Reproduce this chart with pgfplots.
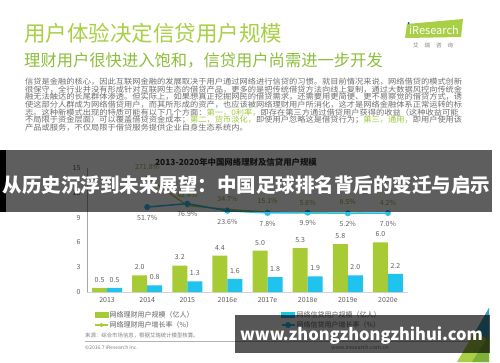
\documentclass[border=0pt]{standalone}
\usepackage{pgfplots}
\pgfplotsset{compat=1.18}
\usepackage{fontspec}
\setmainfont{Noto Sans CJK SC}
\definecolor{gbar}{HTML}{A6CB34}
\definecolor{bbar}{HTML}{1FC3EE}
\definecolor{tgreen}{HTML}{A8CF45}
\definecolor{sgreen}{HTML}{8DBE3C}
\definecolor{pgreen}{HTML}{9CC63A}
\definecolor{txt}{HTML}{606060}
\definecolor{ptxt}{HTML}{6E6E6E}
\definecolor{glabel}{HTML}{8FB03A}
\definecolor{bline}{HTML}{2BC0EA}
\definecolor{tri1}{HTML}{3C9CC8}
\definecolor{tri2}{HTML}{7FB13A}
\definecolor{pgnum}{HTML}{9BBB59}
\definecolor{idot}{HTML}{1F4E9A}
\pgfplotsset{mylineleg/.style={legend image code/.code={\draw[mark repeat=2,mark phase=2,##1] plot coordinates {(0pt,0pt)(6.5pt,0pt)(13pt,0pt)};}}}
\newcommand\fs[1]{\fontsize{#1}{#1}\selectfont}
\newcommand\pl[1]{\scalebox{1.085}[1]{\fs{7.6}#1}}
\begin{document}
\begin{tikzpicture}
\begin{scope}[x=1pt,y=-1pt]
\fill[white] (0,0) rectangle (500,362);
% titles
\node[anchor=west,text=tgreen,inner sep=0] at (24,33) {\fs{21.5}用户体验决定信贷用户规模};
\node[anchor=west,text=sgreen,inner sep=0] at (24,60) {\fs{16.3}理财用户很快进入饱和，信贷用户尚需进一步开发};
% logo
\fill[tgreen] (407,24) -- (463,19) -- (461,37) -- (405,38) -- cycle;
\node[text=white,inner sep=0] at (434,30) {\fs{11}iResearch};
\fill[idot] (408.6,23.2) circle (1.1);
\node[text=gray,inner sep=0] at (433,45) {\fs{5.5}艾\hspace{6pt}瑞\hspace{6pt}咨\hspace{6pt}询};
% paragraph
\begin{scope}[every node/.style={anchor=west,inner sep=0,text=ptxt}]
\node at (25,81.7) {\pl{信贷是金融的核心，因此互联网金融的发展取决于用户通过网络进行信贷的习惯。就目前情况来说，网络借贷的模式创新}};
\node at (25,89.3) {\pl{很保守，全行业并没有形成针对互联网生态的借贷产品，更多的是把传统借贷方法向线上复制，通过大数据风控向传统金}};
\node at (25,97.0) {\pl{融无法触达的长尾群体渗透。但实际上，如果想真正挖掘网民的借贷需求，还需要用更简便、更不易察觉的借贷方式，诱}};
\node at (25,104.6) {\pl{使这部分人群成为网络借贷用户，而其所形成的资产，也应该被网络理财用户所消化，这才是网络金融体系正常运转的标}};
\node at (25,112.3) {\pl{志。这种新模式出现的特质可能有以下几个方面：{\color{pgreen}第一，0利率，}即存在第三方通过借贷用户获得的收益（这种收益可能}};
\node at (25,119.9) {\pl{不局限于资金层面）可以覆盖借贷资金成本；{\color{pgreen}第二，货币淡化，}即使用户忽略这是借贷行为；{\color{pgreen}第三，通用，}即用户使用该}};
\node at (25,127.5) {\pl{产品或服务，不仅局限于借贷服务提供企业自身生态系统内。}};
\end{scope}
% chart title
\node[inner sep=0,text=black!80] at (236,162) {\fs{8.4}\bfseries 2013-2020年中国网络理财及信贷用户规模};
\end{scope}
% bars
\begin{axis}[at={(87pt,-292pt)}, anchor=south west, scale only axis,
  width=321pt, height=124pt,
  xmin=-0.5, xmax=7.5, ymin=0, ymax=15,
  ytick={0,3,6,9,12,15}, yticklabels={0,3,6,9,12,15},
  xtick={0,...,7},
  xticklabels={2013,2014,2015,2016e,2017e,2018e,2019e,2020e},
  axis x line*=bottom, axis y line*=left,
  x axis line style={draw=gray!35,-}, y axis line style={draw=gray!70,-},
  major tick length=0pt,
  tick label style={font=\fs{7}, text=txt},
  yticklabel style={xshift=-3pt},
  xticklabel style={yshift=-2pt},
  ybar=0pt, bar width=15pt,
  nodes near coords, point meta=explicit symbolic,
  nodes near coords style={font=\fs{7}, text=txt, yshift=2pt},
  clip=false]
\addplot[fill=gbar, draw=none] coordinates {(0,0.5)[0.5] (1,2.0)[2.0] (2,3.2)[3.2] (3,4.4)[4.4] (4,5.0)[5.0] (5,5.3)[5.3] (6,5.8)[5.8] (7,6.0)[6.0]};
\addplot[fill=bbar, draw=none] coordinates {(0,0.5)[0.5] (1,0.8)[0.8] (2,1.3)[1.3] (3,1.6)[1.6] (4,1.8)[1.8] (5,1.9)[1.9] (6,2.0)[2.0] (7,2.2)[2.2]};
\end{axis}
% growth rate lines
\begin{axis}[at={(87pt,-292pt)}, anchor=south west, scale only axis,
  width=321pt, height=124pt,
  xmin=-0.5, xmax=7.5, ymin=-578, ymax=341, hide axis, clip=false,
  legend columns=2,
  legend cell align=left,
  legend style={at={(0.022,-0.145)}, anchor=north west, draw=none, fill=none, inner sep=0pt,
     font=\fs{7}, text=txt, nodes={inner sep=1.2pt},
     /tikz/every even column/.append style={column sep=86pt}}]
\addlegendimage{legend image code/.code={\fill[gbar] (0pt,-2.5pt) rectangle (13pt,2.5pt);}}
\addlegendentry{网络理财用户规模（亿人）}
\addlegendimage{legend image code/.code={\fill[bbar] (0pt,-2.5pt) rectangle (13pt,2.5pt);}}
\addlegendentry{网络信贷用户规模（亿人）}
\addplot[color=gbar, line width=1.2pt, mark=*, mark size=1.4pt, mylineleg,
  nodes near coords, point meta=explicit symbolic,
  every node near coord/.style={anchor=south, yshift=4pt, font=\fs{7}, text=glabel}]
  coordinates {(1,271.8)[271.8\%] (2,62.4)[62.4\%] (3,34.7)[34.7\%] (4,15.1)[15.1\%] (5,5.6)[5.6\%] (6,8.5)[8.5\%] (7,4.2)[4.2\%]};
\addlegendentry{网络理财用户增长率（\%）}
\addplot[color=bline, line width=1.5pt, mark=*, mark size=2.2pt, mylineleg,
  nodes near coords, point meta=explicit symbolic,
  every node near coord/.style={anchor=north, yshift=-4pt, font=\fs{7}, text=txt}]
  coordinates {(1,51.7)[51.7\%] (2,76.9)[76.9\%] (3,23.6)[23.6\%] (4,7.8)[7.8\%] (5,9.9)[9.9\%] (6,5.2)[5.2\%] (7,7.0)[7.0\%]};
\addlegendentry{网络信贷用户增长率（\%）}
\end{axis}
\begin{scope}[x=1pt,y=-1pt]
% footer
\draw[gray!60, line width=0.4pt] (85,341) -- (470,341);
\node[anchor=west,inner sep=0,text=gray] at (85,335) {\fs{5.4}来源：综合市场信息，根据艾瑞统计模型核算。};
\node[anchor=west,inner sep=0,text=gray] at (85,347.5) {\fs{5}©2016.7 iResearch Inc.};
\node[inner sep=0,text=gray] at (360,347.5) {\fs{5.4}www.iresearch.com.cn};
\fill[tgreen] (489,308) -- (457,362) -- (489,362) -- cycle;
\fill[tri1] (489,308) -- (476,331) -- (489,341) -- cycle;
\fill[tri2] (489,335) -- (472,362) -- (489,362) -- cycle;
\node[inner sep=0,text=pgnum] at (477,350) {\fs{7}11};
% overlay band
\fill[black] (0,150) rectangle (6,212);
\fill[black,opacity=0.63] (6,150) rectangle (492,212);
\node[inner sep=0,text=white] at (246.5,185) {\fs{19.5}\bfseries 从历史沉浮到未来展望：中国足球排名背后的变迁与启示};
% website box
\fill[black,opacity=0.66] (235,315) rectangle (490,353);
\node[inner sep=0,text=white] at (361.5,336) {\fs{16.5}\bfseries www.zhongzhongzhihui.com};
\end{scope}
\end{tikzpicture}
\end{document}
